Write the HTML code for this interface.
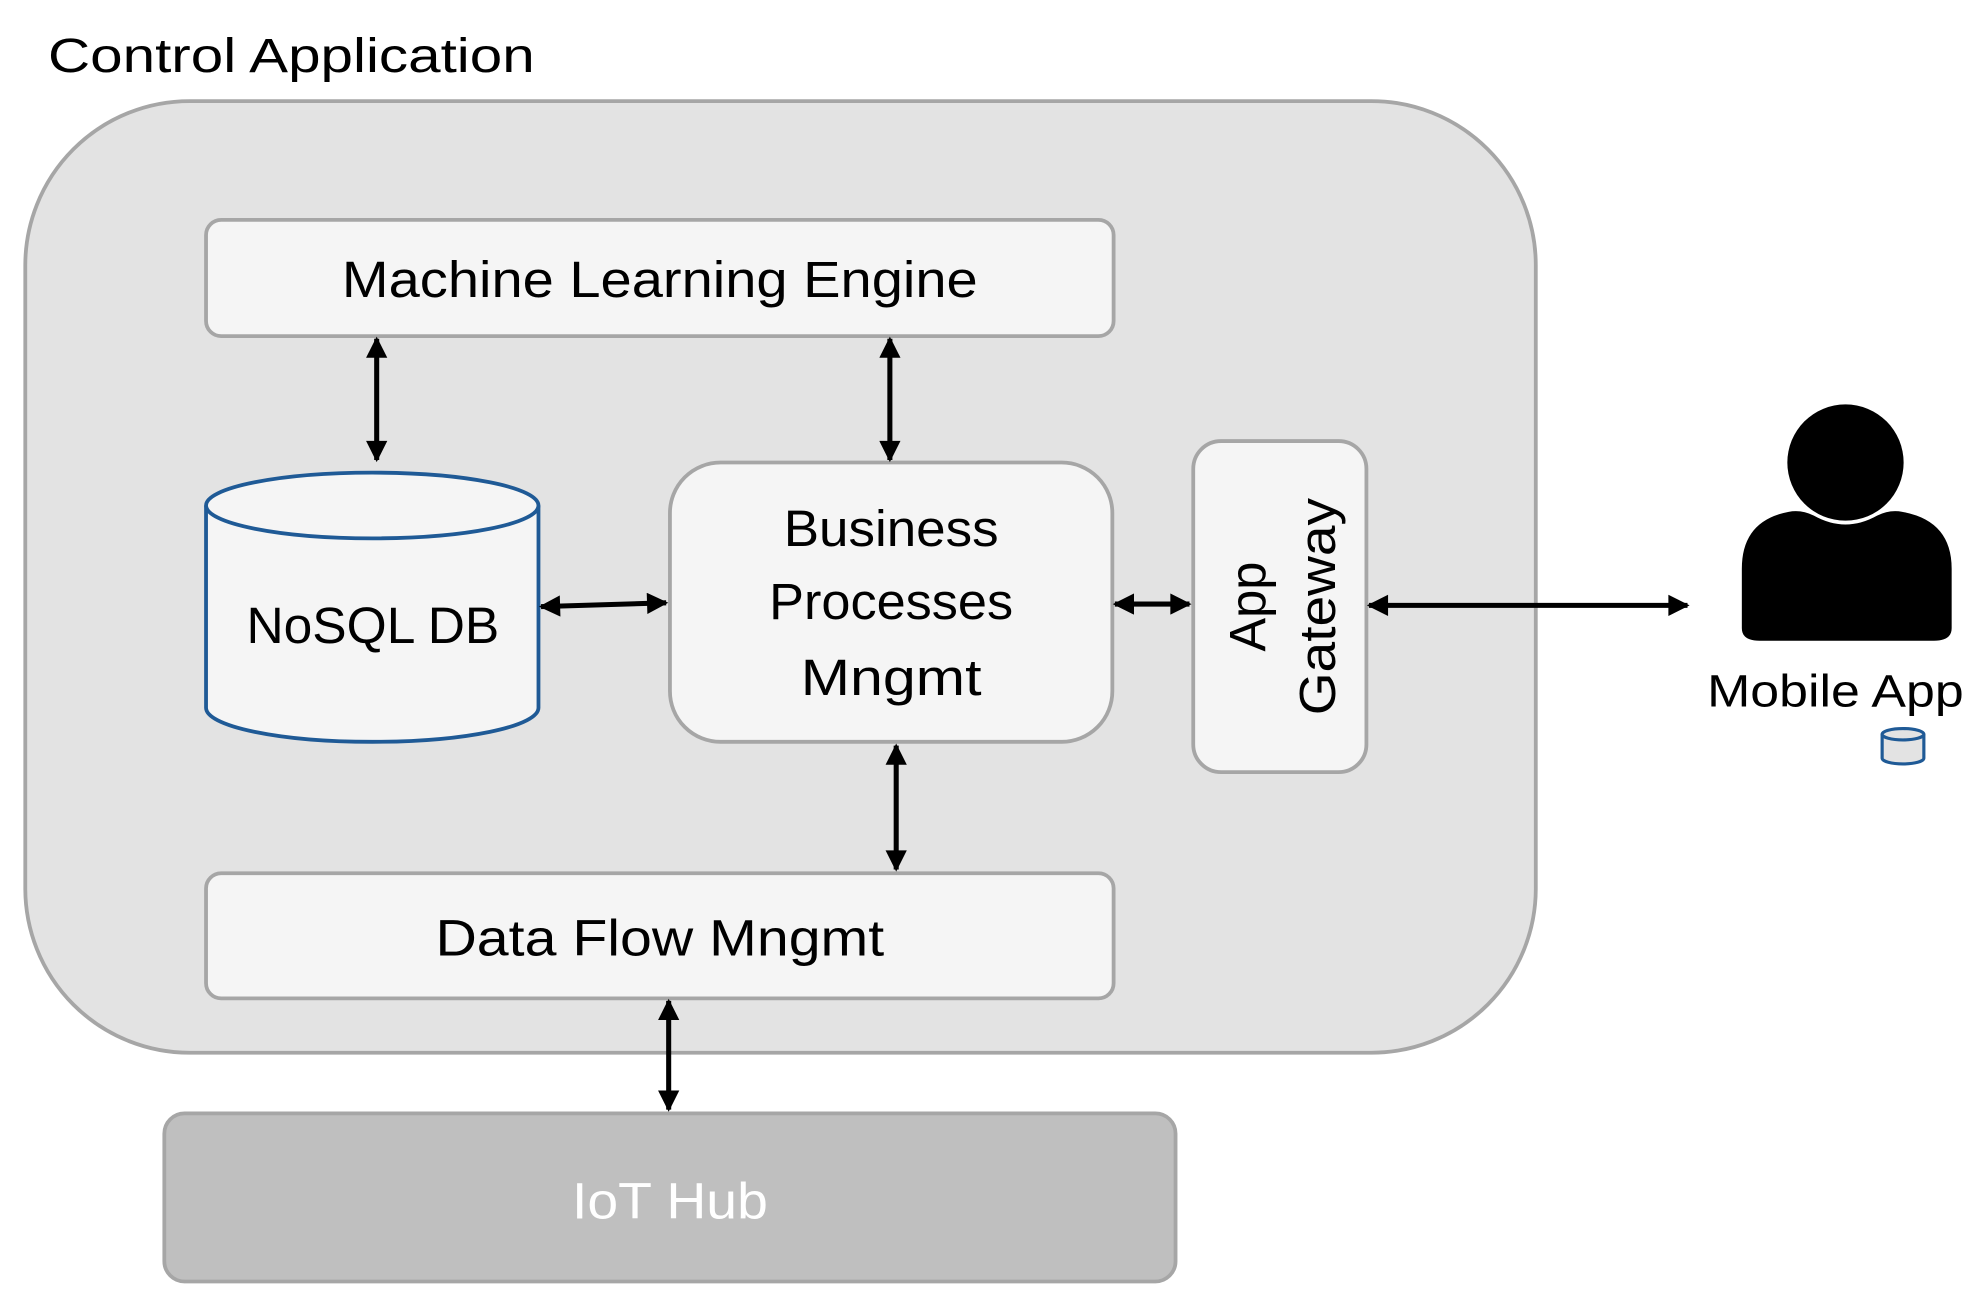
<!DOCTYPE html>
<html><head><meta charset="utf-8"><style>
html,body{margin:0;padding:0;background:#fff;}
svg{display:block;}
text{font-family:"Liberation Sans",sans-serif;fill:#000;}
</style></head><body>
<svg width="1982" height="1308" viewBox="0 0 1568 1035" preserveAspectRatio="none" xmlns="http://www.w3.org/2000/svg">
<defs>
<marker id="a" viewBox="0 0 10 10" refX="9" refY="5" markerWidth="5" markerHeight="4.2" orient="auto-start-reverse" markerUnits="strokeWidth"><path d="M0,0 L10,5 L0,10 z" fill="#000"/></marker>
</defs>
<text x="38" y="57" font-size="38" textLength="385" lengthAdjust="spacingAndGlyphs">Control Application</text>
<rect x="20" y="80" width="1195" height="753" rx="130" fill="#e3e3e3" stroke="#a6a6a6" stroke-width="3"/>
<rect x="163" y="174" width="718" height="92" rx="12" fill="#f5f5f5" stroke="#a6a6a6" stroke-width="3"/>
<text x="522" y="235" font-size="40" text-anchor="middle" textLength="503" lengthAdjust="spacingAndGlyphs">Machine Learning Engine</text>
<path d="M163,400 L163,560 A131.5,27 0 0 0 426,560 L426,400" fill="#f5f5f5" stroke="#1f5a96" stroke-width="3"/>
<ellipse cx="294.5" cy="400" rx="131.5" ry="26" fill="#f5f5f5" stroke="#1f5a96" stroke-width="3"/>
<text x="295" y="509" font-size="40" text-anchor="middle" textLength="200" lengthAdjust="spacingAndGlyphs">NoSQL DB</text>
<rect x="530" y="366" width="350" height="221" rx="40" fill="#f5f5f5" stroke="#a6a6a6" stroke-width="3"/>
<text x="705" y="432" font-size="40" text-anchor="middle" textLength="170" lengthAdjust="spacingAndGlyphs">Business</text>
<text x="705" y="490" font-size="40" text-anchor="middle" textLength="193" lengthAdjust="spacingAndGlyphs">Processes</text>
<text x="705" y="550" font-size="40" text-anchor="middle" textLength="143" lengthAdjust="spacingAndGlyphs">Mngmt</text>
<rect x="944" y="349" width="137" height="262" rx="22" fill="#f5f5f5" stroke="#a6a6a6" stroke-width="3"/>
<text transform="translate(1001,480) rotate(-90)" font-size="40" text-anchor="middle">App</text>
<text transform="translate(1056,480) rotate(-90)" font-size="40" text-anchor="middle" textLength="172" lengthAdjust="spacingAndGlyphs">Gateway</text>
<rect x="163" y="691" width="718" height="99" rx="12" fill="#f5f5f5" stroke="#a6a6a6" stroke-width="3"/>
<text x="522" y="756" font-size="40" text-anchor="middle" textLength="355" lengthAdjust="spacingAndGlyphs">Data Flow Mngmt</text>
<rect x="130" y="881" width="800" height="133" rx="16" fill="#bfbfbf" stroke="#a6a6a6" stroke-width="3"/>
<text x="530" y="964" font-size="40" text-anchor="middle" fill="#fff" style="fill:#fff" textLength="155" lengthAdjust="spacingAndGlyphs">IoT Hub</text>
<g stroke="#000" stroke-width="4" fill="none" marker-start="url(#a)" marker-end="url(#a)">
<line x1="298" y1="268" x2="298" y2="364"/>
<line x1="704" y1="268" x2="704" y2="364"/>
<line x1="709" y1="590" x2="709" y2="688"/>
<line x1="529" y1="792" x2="529" y2="878"/>
<line x1="428" y1="480" x2="527" y2="477"/>
<line x1="882" y1="478" x2="941" y2="478"/>
<line x1="1083" y1="479" x2="1335" y2="479"/>
</g>
<circle cx="1460" cy="366" r="46" fill="#000"/>
<path d="M1378,497 L1378,450 Q1378,412 1415,405 Q1425,403 1435,408 Q1460,422 1485,408 Q1495,403 1505,405 Q1544,412 1544,450 L1544,497 Q1544,507 1530,507 L1392,507 Q1378,507 1378,497 Z" fill="#000"/>
<text x="1452" y="559" font-size="36" text-anchor="middle" textLength="203" lengthAdjust="spacingAndGlyphs">Mobile App</text>
<path d="M1489,581 L1489,600 A16.5,4.5 0 0 0 1522,600 L1522,581" fill="#e3e3e3" stroke="#1f5a96" stroke-width="2.5"/>
<ellipse cx="1505.5" cy="581" rx="16.5" ry="4.5" fill="#e3e3e3" stroke="#1f5a96" stroke-width="2.5"/>
</svg>
</body></html>
